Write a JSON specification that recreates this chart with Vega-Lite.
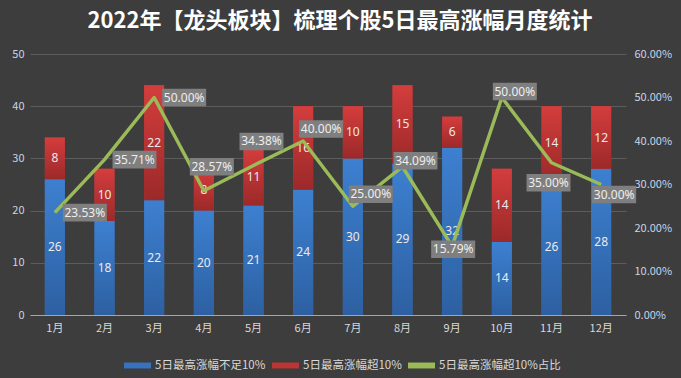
{
  "$schema": "https://vega.github.io/schema/vega-lite/v6.json",
  "width": 596,
  "height": 261,
  "autosize": {"type": "none"},
  "padding": {"left": 30, "top": 54, "right": 55, "bottom": 63},
  "background": "#3d3d3d",
  "title": {
    "text": "2022年【龙头板块】梳理个股5日最高涨幅月度统计",
    "color": "#ffffff",
    "font": "Noto Sans CJK SC",
    "fontSize": 22,
    "fontWeight": "bold",
    "anchor": "middle",
    "frame": "group",
    "dx": 12,
    "offset": 15
  },
  "config": {
    "view": {"stroke": null},
    "font": "Noto Sans CJK SC",
    "axis": {"labelFont": "Noto Sans CJK SC", "labelFontSize": 11}
  },
  "datasets": {
    "main": [
      {"month": "1月", "5日最高涨幅不足10%": 26, "5日最高涨幅超10%": 8, "pct": 0.2353},
      {"month": "2月", "5日最高涨幅不足10%": 18, "5日最高涨幅超10%": 10, "pct": 0.3571},
      {"month": "3月", "5日最高涨幅不足10%": 22, "5日最高涨幅超10%": 22, "pct": 0.5},
      {"month": "4月", "5日最高涨幅不足10%": 20, "5日最高涨幅超10%": 8, "pct": 0.2857},
      {"month": "5月", "5日最高涨幅不足10%": 21, "5日最高涨幅超10%": 11, "pct": 0.3438},
      {"month": "6月", "5日最高涨幅不足10%": 24, "5日最高涨幅超10%": 16, "pct": 0.4},
      {"month": "7月", "5日最高涨幅不足10%": 30, "5日最高涨幅超10%": 10, "pct": 0.25},
      {"month": "8月", "5日最高涨幅不足10%": 29, "5日最高涨幅超10%": 15, "pct": 0.3409},
      {"month": "9月", "5日最高涨幅不足10%": 32, "5日最高涨幅超10%": 6, "pct": 0.1579},
      {"month": "10月", "5日最高涨幅不足10%": 14, "5日最高涨幅超10%": 14, "pct": 0.5},
      {"month": "11月", "5日最高涨幅不足10%": 26, "5日最高涨幅超10%": 14, "pct": 0.35},
      {"month": "12月", "5日最高涨幅不足10%": 28, "5日最高涨幅超10%": 12, "pct": 0.3}
    ]
  },
  "data": {"name": "main"},
  "encoding": {
    "x": {
      "field": "month",
      "type": "ordinal",
      "sort": null,
      "title": null,
      "axis": {
        "labelAngle": 0,
        "labelColor": "#d9d9d9",
        "labelPadding": 7,
        "domain": true,
        "domainColor": "#a6a6a6",
        "domainWidth": 1,
        "ticks": false,
        "grid": false
      }
    }
  },
  "layer": [
    {
      "transform": [
        {"fold": ["5日最高涨幅不足10%", "5日最高涨幅超10%"], "as": ["series", "value"]},
        {"stack": "value", "groupby": ["month"], "sort": [{"field": "series", "order": "ascending"}], "as": ["v0", "v1"]}
      ],
      "layer": [
        {
          "mark": {"type": "bar", "width": 20},
          "encoding": {
            "y": {
              "field": "v0",
              "type": "quantitative",
              "title": null,
              "scale": {"domain": [0, 50]},
              "axis": {
                "values": [0, 5, 10, 15, 20, 25, 30, 35, 40, 45, 50],
                "labelColor": "#c9d4e6",
                "labelPadding": 6,
                "domain": false,
                "ticks": false,
                "grid": true,
                "gridColor": "#5c5c5c",
                "gridWidth": 1
              }
            },
            "y2": {"field": "v1"},
            "color": {
              "field": "series",
              "type": "nominal",
              "scale": {
                "domain": ["5日最高涨幅不足10%", "5日最高涨幅超10%", "5日最高涨幅超10%占比"],
                "range": ["#3672bd", "#bd3434", "#9bbb59"]
              },
              "legend": {
                "title": null,
                "orient": "none",
                "legendX": 94,
                "legendY": 298,
                "direction": "horizontal",
                "symbolType": "M-1,-0.22L1,-0.22L1,0.22L-1,0.22Z",
                "symbolSize": 729,
                "symbolStrokeWidth": 0,
                "labelColor": "#d9d9d9",
                "labelFont": "Noto Sans CJK SC",
                "labelFontSize": 11.5,
                "labelOffset": 4,
                "columnPadding": 6
              }
            }
          }
        },
        {
          "transform": [{"filter": {"field": "series", "equal": "5日最高涨幅不足10%"}}],
          "mark": {"type": "bar", "width": 20, "color": {"gradient": "linear", "x1": 0, "y1": 0, "x2": 0, "y2": 1, "stops": [{"offset": 0, "color": "#3d80d0"}, {"offset": 1, "color": "#2d60a2"}]}},
          "encoding": {
            "y": {"field": "v0", "type": "quantitative"},
            "y2": {"field": "v1"}
          }
        },
        {
          "transform": [{"filter": {"field": "series", "equal": "5日最高涨幅超10%"}}],
          "mark": {"type": "bar", "width": 20, "color": {"gradient": "linear", "x1": 0, "y1": 0, "x2": 0, "y2": 1, "stops": [{"offset": 0, "color": "#d43d3d"}, {"offset": 1, "color": "#9c2929"}]}},
          "encoding": {
            "y": {"field": "v0", "type": "quantitative"},
            "y2": {"field": "v1"}
          }
        },
        {
          "transform": [{"calculate": "(datum.v0 + datum.v1) / 2", "as": "mid"}],
          "mark": {"type": "text", "color": "#eaeaea", "fontSize": 12, "font": "Noto Sans"},
          "encoding": {
            "y": {"field": "mid", "type": "quantitative"},
            "text": {"field": "value", "type": "quantitative"}
          }
        }
      ]
    },
    {
      "layer": [
        {
          "mark": {"type": "line", "strokeWidth": 3.5, "strokeJoin": "round"},
          "encoding": {
            "y": {
              "field": "pct",
              "type": "quantitative",
              "title": null,
              "scale": {"domain": [0, 0.6]},
              "axis": {
                "orient": "right",
                "values": [0, 0.1, 0.2, 0.3, 0.4, 0.5, 0.6],
                "format": ".2%",
                "labelColor": "#c9d4e6",
                "labelPadding": 8,
                "domain": false,
                "ticks": false,
                "grid": false
              }
            },
            "color": {"datum": "5日最高涨幅超10%占比", "type": "nominal"}
          }
        },
        {
          "transform": [{"filter": {"field": "month", "oneOf": ["1月", "2月", "3月"]}}],
          "layer": [
            {"mark": {"type": "point", "shape": "M-1,-0.4L1,-0.4L1,0.4L-1,0.4Z", "size": 1936, "filled": true, "fill": "#7f7f7f", "opacity": 1, "strokeWidth": 0, "xOffset": 30, "yOffset": 0}, "encoding": {"y": {"field": "pct", "type": "quantitative"}}},
            {"mark": {"type": "text", "color": "#eeeeee", "fontSize": 12, "font": "Noto Sans", "xOffset": 30, "yOffset": 0}, "encoding": {"y": {"field": "pct", "type": "quantitative"}, "text": {"field": "pct", "type": "quantitative", "format": ".2%"}}}
          ]
        },
        {
          "transform": [{"filter": {"field": "month", "oneOf": ["4月", "5月"]}}],
          "layer": [
            {"mark": {"type": "point", "shape": "M-1,-0.4L1,-0.4L1,0.4L-1,0.4Z", "size": 1936, "filled": true, "fill": "#7f7f7f", "opacity": 1, "strokeWidth": 0, "xOffset": 8, "yOffset": -24}, "encoding": {"y": {"field": "pct", "type": "quantitative"}}},
            {"mark": {"type": "text", "color": "#eeeeee", "fontSize": 12, "font": "Noto Sans", "xOffset": 8, "yOffset": -24}, "encoding": {"y": {"field": "pct", "type": "quantitative"}, "text": {"field": "pct", "type": "quantitative", "format": ".2%"}}}
          ]
        },
        {
          "transform": [{"filter": {"field": "month", "oneOf": ["6月", "7月"]}}],
          "layer": [
            {"mark": {"type": "point", "shape": "M-1,-0.4L1,-0.4L1,0.4L-1,0.4Z", "size": 1936, "filled": true, "fill": "#7f7f7f", "opacity": 1, "strokeWidth": 0, "xOffset": 18, "yOffset": -12}, "encoding": {"y": {"field": "pct", "type": "quantitative"}}},
            {"mark": {"type": "text", "color": "#eeeeee", "fontSize": 12, "font": "Noto Sans", "xOffset": 18, "yOffset": -12}, "encoding": {"y": {"field": "pct", "type": "quantitative"}, "text": {"field": "pct", "type": "quantitative", "format": ".2%"}}}
          ]
        },
        {
          "transform": [{"filter": {"field": "month", "oneOf": ["8月", "10月"]}}],
          "layer": [
            {"mark": {"type": "point", "shape": "M-1,-0.4L1,-0.4L1,0.4L-1,0.4Z", "size": 1936, "filled": true, "fill": "#7f7f7f", "opacity": 1, "strokeWidth": 0, "xOffset": 13, "yOffset": -6}, "encoding": {"y": {"field": "pct", "type": "quantitative"}}},
            {"mark": {"type": "text", "color": "#eeeeee", "fontSize": 12, "font": "Noto Sans", "xOffset": 13, "yOffset": -6}, "encoding": {"y": {"field": "pct", "type": "quantitative"}, "text": {"field": "pct", "type": "quantitative", "format": ".2%"}}}
          ]
        },
        {
          "transform": [{"filter": {"field": "month", "oneOf": ["9月"]}}],
          "layer": [
            {"mark": {"type": "point", "shape": "M-1,-0.4L1,-0.4L1,0.4L-1,0.4Z", "size": 1936, "filled": true, "fill": "#7f7f7f", "opacity": 1, "strokeWidth": 0, "xOffset": 1, "yOffset": 3}, "encoding": {"y": {"field": "pct", "type": "quantitative"}}},
            {"mark": {"type": "text", "color": "#eeeeee", "fontSize": 12, "font": "Noto Sans", "xOffset": 1, "yOffset": 3}, "encoding": {"y": {"field": "pct", "type": "quantitative"}, "text": {"field": "pct", "type": "quantitative", "format": ".2%"}}}
          ]
        },
        {
          "transform": [{"filter": {"field": "month", "oneOf": ["11月"]}}],
          "layer": [
            {"mark": {"type": "point", "shape": "M-1,-0.4L1,-0.4L1,0.4L-1,0.4Z", "size": 1936, "filled": true, "fill": "#7f7f7f", "opacity": 1, "strokeWidth": 0, "xOffset": -3, "yOffset": 20}, "encoding": {"y": {"field": "pct", "type": "quantitative"}}},
            {"mark": {"type": "text", "color": "#eeeeee", "fontSize": 12, "font": "Noto Sans", "xOffset": -3, "yOffset": 20}, "encoding": {"y": {"field": "pct", "type": "quantitative"}, "text": {"field": "pct", "type": "quantitative", "format": ".2%"}}}
          ]
        },
        {
          "transform": [{"filter": {"field": "month", "oneOf": ["12月"]}}],
          "layer": [
            {"mark": {"type": "point", "shape": "M-1,-0.4L1,-0.4L1,0.4L-1,0.4Z", "size": 1936, "filled": true, "fill": "#7f7f7f", "opacity": 1, "strokeWidth": 0, "xOffset": 13, "yOffset": 10}, "encoding": {"y": {"field": "pct", "type": "quantitative"}}},
            {"mark": {"type": "text", "color": "#eeeeee", "fontSize": 12, "font": "Noto Sans", "xOffset": 13, "yOffset": 10}, "encoding": {"y": {"field": "pct", "type": "quantitative"}, "text": {"field": "pct", "type": "quantitative", "format": ".2%"}}}
          ]
        }
      ]
    }
  ],
  "resolve": {"scale": {"y": "independent"}}
}
